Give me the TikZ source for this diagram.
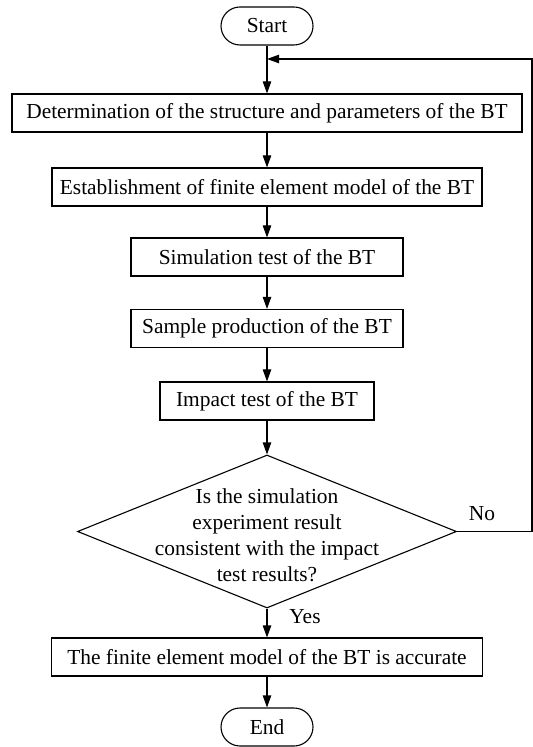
\documentclass[tikz,border=0pt]{standalone}
\usepackage{fontspec}
\setmainfont{Liberation Serif}
\usetikzlibrary{shapes.geometric,arrows.meta}

\begin{document}
\begin{tikzpicture}[x=0.5pt,y=-0.5pt,
    font=\fontsize{10.7}{13}\selectfont,
    line width=0.55pt,
    >={Triangle[length=6pt,width=4.2pt]}]
            % page frame (pixel units of the figure)
            \useasboundingbox (0,0) rectangle (533,747);
            % Define box styles
            \tikzset{
                proc/.style={draw,rectangle,minimum height=19pt,inner sep=0pt},
                term/.style={draw,rectangle,rounded corners=9.5pt,minimum width=46pt,minimum height=19pt,inner sep=0pt},
                lbl/.style={inner sep=0pt}
            }
            % Start and end
            \node[term] (start) at (267,26) {Start};
            \node[term] (end) at (267,727) {End};
            % Process boxes
            \node[proc,minimum width=255pt] (b1) at (267,113) {Determination of the structure and parameters of the BT};
            \node[proc,minimum width=215pt] (b2) at (267,187) {Establishment of finite element model of the BT};
            \node[proc,minimum width=136pt] (b3) at (267,257) {Simulation test of the BT};
            \node[proc,minimum width=136pt] (b4) at (267,328.5) {Sample production of the BT};
            \node[proc,minimum width=107pt] (b5) at (267,401) {Impact test of the BT};
            \node[proc,minimum width=215.5pt] (b6) at (267,657) {The finite element model of the BT is accurate};
            % Decision
            \node[draw,diamond,minimum width=189.5pt,minimum height=76.5pt,inner sep=0pt] (check) at (267,531.5) {};
            \node[lbl,align=center] (checktext) at (267,535) {Is the simulation\\experiment result\\consistent with the impact\\test results?};
            \node[lbl] (yes) at (305,617) {Yes};
            \node[lbl] (no) at (482,514) {No};
            % Main flow
            \foreach \a/\b in {start/b1,b1/b2,b2/b3,b3/b4,b4/b5,b5/check,check/b6,b6/end} {
                \draw[->] (\a) -- (\b);
            }
            % Loop back when the results differ
            \coordinate (join) at (267,59);
            \coordinate (corner1) at (532,531.5);
            \coordinate (corner2) at (532,59);
            \draw[->] (check.east) -- (corner1) -- (corner2) -- (join);
        \end{tikzpicture}
\end{document}
